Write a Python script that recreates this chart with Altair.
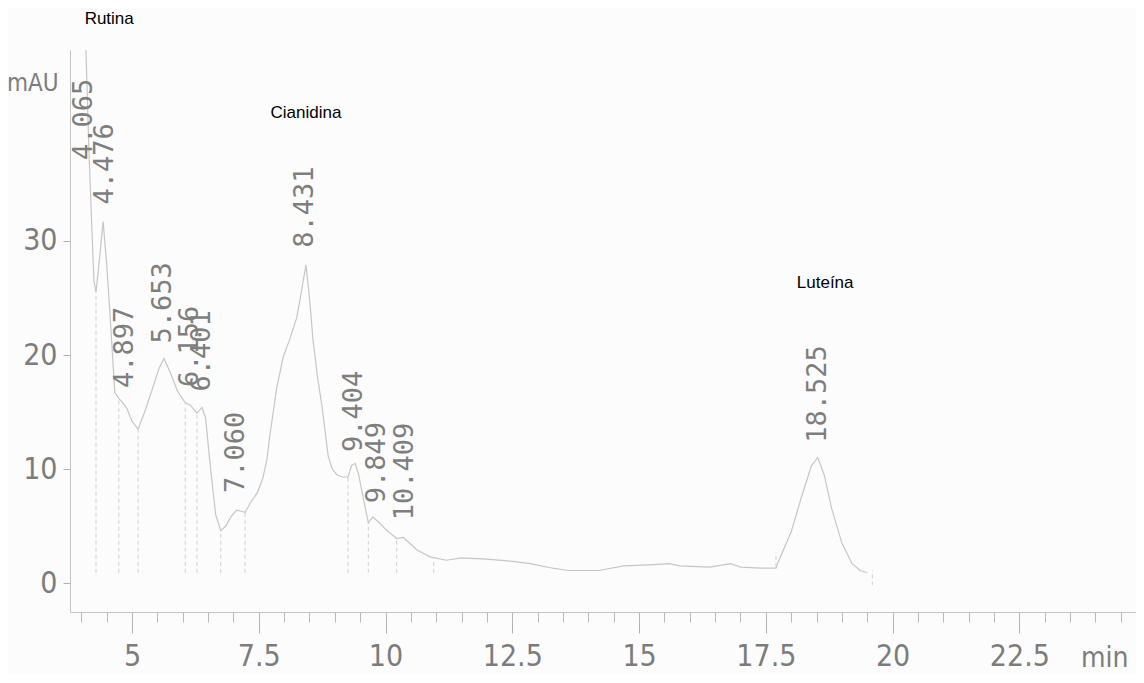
import altair as alt
import pandas as pd

# ---- chromatogram trace (time in min, absorbance in mAU) ----
trace_t = [3.95, 4.065, 4.09, 4.15, 4.2, 4.25, 4.29, 4.36, 4.43, 4.5, 4.57, 4.66, 4.74, 4.82,
           4.9, 5.0, 5.12, 5.25, 5.4, 5.53, 5.63, 5.75, 5.9, 6.05, 6.15, 6.28, 6.38, 6.45,
           6.55, 6.65, 6.75, 6.85, 6.95, 7.06, 7.15, 7.23, 7.33, 7.47, 7.58, 7.66, 7.72,
           7.85, 7.98, 8.12, 8.25, 8.35, 8.43, 8.5, 8.57, 8.66, 8.75, 8.87, 8.95, 9.04,
           9.15, 9.26, 9.33, 9.4, 9.47, 9.54, 9.66, 9.75, 9.85, 10.03, 10.22, 10.35, 10.5,
           10.62, 10.88, 11.2, 11.5, 12.0, 12.5, 12.85, 13.3, 13.6, 14.2, 14.7, 15.2, 15.6,
           15.8, 16.4, 16.8, 17.0, 17.4, 17.7, 17.74, 18.0, 18.2, 18.4, 18.525, 18.65, 18.8,
           19.0, 19.2, 19.36, 19.5]
trace_v = [50.0, 55.0, 47.0, 38.0, 32.0, 26.5, 25.5, 28.5, 31.7, 28.0, 23.3, 16.7, 16.2, 15.8,
           15.3, 14.2, 13.5, 15.0, 17.0, 18.8, 19.7, 18.5, 16.8, 15.8, 15.6, 14.9, 15.4, 14.5,
           10.0, 6.0, 4.6, 5.0, 5.8, 6.4, 6.3, 6.2, 7.0, 7.9, 9.2, 10.8, 13.0,
           17.0, 19.8, 21.5, 23.3, 25.8, 27.9, 25.0, 21.3, 18.0, 15.4, 11.1, 10.0, 9.5,
           9.3, 9.3, 10.3, 10.5, 9.5, 7.9, 5.3, 5.8, 5.4, 4.6, 3.9, 4.0, 3.4,
           2.9, 2.3, 2.0, 2.2, 2.1, 1.9, 1.7, 1.3, 1.1, 1.1, 1.5, 1.6, 1.7,
           1.5, 1.4, 1.7, 1.4, 1.3, 1.3, 1.8, 4.5, 7.5, 10.3, 11.0, 9.5, 6.5,
           3.5, 1.7, 1.1, 0.9]

# ---- integration drop lines ----
drop_t = [4.29, 4.74, 5.12, 6.05, 6.28, 6.75, 7.23, 9.26, 9.66, 10.22, 10.95, 17.7, 19.6]
drop_hi = [25.5, 16.0, 13.5, 15.8, 14.9, 4.6, 6.2, 9.3, 5.3, 3.9, 2.3, 2.7, 1.1]
drop_lo = [0.9, 0.9, 0.9, 0.9, 0.9, 0.9, 0.9, 0.9, 0.9, 0.9, 0.9, 1.4, -0.2]

# ---- retention time labels ----
rt_labels = ["4.065", "4.476", "4.897", "5.653", "6.156", "6.401", "7.060", "8.431",
             "9.404", "9.849", "10.409", "18.525"]
rt_pos = [4.05, 4.47, 4.86, 5.61, 6.14, 6.38, 7.05, 8.41, 9.38, 9.83, 10.38, 18.53]
rt_base = [37.1, 33.2, 17.1, 21.0, 17.2, 16.8, 7.9, 29.4, 11.5, 7.0, 5.5, 12.3]

# ---- compound names ----
cmp_names = ["Rutina", "Cianidina", "Luteína"]
cmp_t = [4.55, 8.43, 18.67]
cmp_v = [49.5, 41.2, 26.3]

x_major = [5, 7.5, 10, 12.5, 15, 17.5, 20, 22.5]
x_minor = [4.0 + 0.5 * i for i in range(42)]
y_ticks = [0, 10, 20, 30]

trace = pd.DataFrame({"t": trace_t, "v": trace_v})
drops = pd.DataFrame({"t": drop_t, "hi": drop_hi, "lo": drop_lo})
rts = pd.DataFrame({"label": rt_labels, "t": rt_pos, "v": rt_base})
cmps = pd.DataFrame({"name": cmp_names, "t": cmp_t, "v": cmp_v})

AX_FONT = "Liberation Sans Narrow, DejaVu Sans Condensed, Roboto Condensed, Liberation Sans, sans-serif"
AX_COLOR = "#7c7c7c"

xs = alt.Scale(domain=[3.777, 24.8], nice=False, zero=False)
ys = alt.Scale(domain=[-2.54, 46.75], nice=False, zero=False)

x_axis = alt.Axis(
    values=x_major,
    format=".1~f",
    tickSize=21,
    tickColor="#b0b0b0",
    domainColor="#c4c4c4",
    labelColor=AX_COLOR,
    labelFont=AX_FONT,
    labelFontSize=30,
    labelPadding=8,
    labelFlush=False,
    labelOverlap=False,
    grid=False,
    orient="bottom",
    title="min",
    titleFont=AX_FONT,
    titleFontSize=28,
    titleFontWeight="normal",
    titleColor=AX_COLOR,
    titleAnchor="end",
    titleAlign="right",
    titleBaseline="alphabetic",
    titleX=1058,
    titleY=54,
)
x_axis_minor = alt.Axis(
    values=x_minor,
    tickSize=10,
    tickColor="#b8b8b8",
    domain=False,
    labels=False,
    grid=False,
    orient="bottom",
    title=None,
)
y_axis = alt.Axis(
    values=y_ticks,
    tickSize=7,
    tickColor="#b0b0b0",
    domainColor="#c4c4c4",
    labelColor=AX_COLOR,
    labelFont=AX_FONT,
    labelFontSize=30,
    labelPadding=6,
    grid=False,
    title="mAU",
    titleFont=AX_FONT,
    titleFontSize=24,
    titleFontWeight="normal",
    titleColor=AX_COLOR,
    titleAngle=0,
    titleAlign="right",
    titleBaseline="alphabetic",
    titleX=-12,
    titleY=40,
)

line = alt.Chart(trace).mark_line(color="#c6c6c6", strokeWidth=1.2, clip=True).encode(
    x=alt.X("t:Q", scale=xs, axis=x_axis),
    y=alt.Y("v:Q", scale=ys, axis=y_axis),
)

minor = alt.Chart(trace).mark_point(opacity=0).encode(
    x=alt.X("t:Q", scale=xs, axis=x_axis_minor),
    y=alt.Y("v:Q", scale=ys),
)

drop_rules = alt.Chart(drops).mark_rule(color="#d0d0d0", strokeWidth=1, strokeDash=[4, 3]).encode(
    x=alt.X("t:Q", scale=xs, axis=None),
    y=alt.Y("lo:Q", scale=ys),
    y2="hi:Q",
)

rt_text = alt.Chart(rts).mark_text(
    angle=270, align="left", baseline="middle", font="DejaVu Sans Mono",
    fontSize=27, color="#7e7e7e"
).encode(
    x=alt.X("t:Q", scale=xs, axis=None),
    y=alt.Y("v:Q", scale=ys),
    text="label:N",
)

cmp_text = alt.Chart(cmps).mark_text(
    align="center", baseline="middle", font="Liberation Sans", fontSize=17, color="#000000"
).encode(
    x=alt.X("t:Q", scale=xs, axis=None),
    y=alt.Y("v:Q", scale=ys),
    text="name:N",
)

chart = alt.layer(line, minor, drop_rules, rt_text, cmp_text).resolve_axis(
    x="independent"
).properties(
    width=1066,
    height=562,
    autosize=alt.AutoSizeParams(type="none"),
    padding={"left": 62, "top": 42, "right": 0, "bottom": 62},
    background="#fcfcfc",
).configure_view(stroke=None)

chart.save("out.html", embed_options={"renderer": "svg", "actions": False})
